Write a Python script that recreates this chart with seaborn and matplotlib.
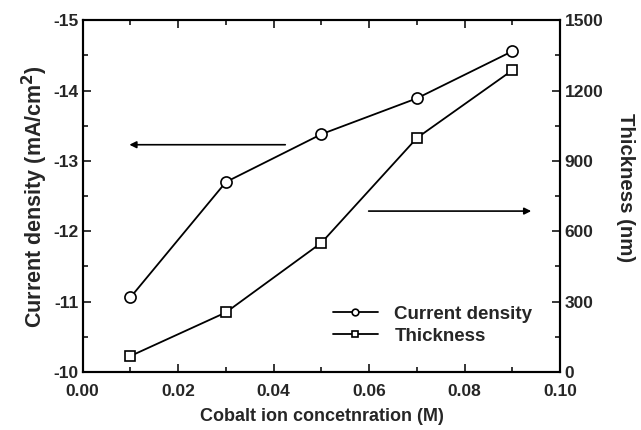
import matplotlib
matplotlib.use("Agg")
import matplotlib.pyplot as plt
import seaborn as sns
import pandas as pd
from matplotlib.ticker import MultipleLocator

concentration = [0.01, 0.03, 0.05, 0.07, 0.09]
current_density = [-11.06, -12.70, -13.38, -13.89, -14.56]
thickness = [68, 254, 551, 998, 1287]

sns.set_style("ticks")
plt.rcParams['font.family'] = ['Liberation Sans', 'DejaVu Sans']
plt.rcParams['font.weight'] = 'bold'
plt.rcParams['axes.labelweight'] = 'bold'

df = pd.DataFrame({"conc": concentration, "cd": current_density, "th": thickness})

fig = plt.figure(figsize=(6.41, 4.30), dpi=100)
ax = fig.add_axes([0.129, 0.135, 0.745, 0.818])
ax2 = ax.twinx()

sns.lineplot(data=df, x="conc", y="cd", ax=ax, color="black", lw=1.3,
             marker="o", markersize=8, markerfacecolor="white",
             markeredgecolor="black", markeredgewidth=1.2, label="Current density", legend=False)
sns.lineplot(data=df, x="conc", y="th", ax=ax2, color="black", lw=1.3,
             marker="s", markersize=7, markerfacecolor="white",
             markeredgecolor="black", markeredgewidth=1.2, label="Thickness", legend=False)

ax.set_xlim(0.0, 0.10)
ax.set_ylim(-10, -15)
ax2.set_ylim(0, 1500)

ax.xaxis.set_major_locator(MultipleLocator(0.02))
ax.xaxis.set_minor_locator(MultipleLocator(0.01))
ax.yaxis.set_major_locator(MultipleLocator(1))
ax.yaxis.set_minor_locator(MultipleLocator(0.5))
ax2.yaxis.set_major_locator(MultipleLocator(300))
ax2.yaxis.set_minor_locator(MultipleLocator(150))
ax.xaxis.set_major_formatter(plt.FuncFormatter(lambda v, p: f"{v:.2f}"))
ax.yaxis.set_major_formatter(plt.FuncFormatter(lambda v, p: f"{int(round(v))}"))

for a in (ax, ax2):
    a.tick_params(which="major", direction="in", length=6, width=1.3, labelsize=12.5)
    a.tick_params(which="minor", direction="in", length=3.5, width=1.3)
    for s in a.spines.values():
        s.set_linewidth(1.5)
        s.set_color("black")
ax.tick_params(axis="x", which="both", top=True, pad=9)
ax.tick_params(axis="y", which="both", right=False, pad=3)
ax2.tick_params(axis="y", which="both", left=False, right=True, pad=3)

ax.set_xlabel("Cobalt ion concetnration (M)", fontsize=13, fontweight="bold", labelpad=6)
ax.set_ylabel("Current density (mA/cm$^\\mathbf{2}$)", fontsize=15.5, fontweight="bold", labelpad=2)
ax2.set_ylabel("Thickness (nm)", fontsize=14.7, fontweight="bold", rotation=270,
               va="center", ha="center")
ax2.yaxis.set_label_coords(1.137, 0.523)

# direction arrows
ax.annotate("", xy=(0.0092, -13.23), xytext=(0.043, -13.23),
            arrowprops=dict(arrowstyle="-|>", color="black", lw=1.2, mutation_scale=10))
ax2.annotate("", xy=(0.0945, 686), xytext=(0.0593, 686),
             arrowprops=dict(arrowstyle="-|>", color="black", lw=1.2, mutation_scale=10))

h1, l1 = ax.get_legend_handles_labels()
h2, l2 = ax2.get_legend_handles_labels()
leg = ax2.legend(h1 + h2, l1 + l2, loc="lower right", bbox_to_anchor=(0.977, 0.03),
                 frameon=False, fontsize=13.5, handlelength=2.4, markerscale=0.6,
                 labelspacing=0.24, handletextpad=0.9)

fig.savefig("out.png", dpi=100)
